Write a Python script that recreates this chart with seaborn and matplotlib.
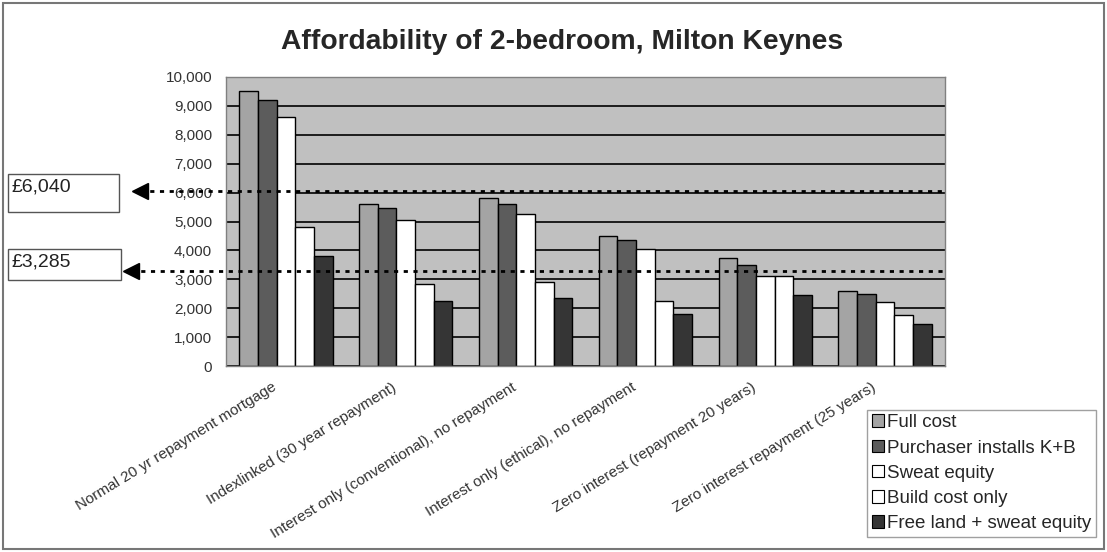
import pandas as pd
import numpy as np
import matplotlib.pyplot as plt
import seaborn as sns
from matplotlib.patches import Rectangle

# Data
schemes = ['Normal 20 yr repayment mortgage', 'Indexlinked (30 year repayment)',
           'Interest only (conventional), no repayment', 'Interest only (ethical), no repayment',
           'Zero interest (repayment 20 years)', 'Zero interest repayment (25 years)']
options = ['Full cost', 'Purchaser installs K+B', 'Sweat equity', 'Build cost only',
           'Free land + sweat equity']
full_cost = [9500, 5600, 5800, 4500, 3750, 2600]
purchaser_kb = [9200, 5450, 5600, 4350, 3500, 2500]
sweat_equity = [8600, 5050, 5250, 4050, 3100, 2200]
build_cost = [4800, 2850, 2900, 2250, 3100, 1750]
free_land = [3800, 2250, 2350, 1800, 2450, 1450]
thresholds = [6040, 3285]
threshold_labels = ['£6,040', '£3,285']

colours = ['#a4a4a4', '#5c5c5c', '#ffffff', '#ffffff', '#353535']

data = pd.DataFrame({
    'scheme': np.repeat(schemes, 5),
    'option': options * len(schemes),
    'cost': [v for row in zip(full_cost, purchaser_kb, sweat_equity, build_cost, free_land) for v in row],
})

sns.set_style('white')
plt.rcParams['font.family'] = ['Liberation Sans', 'DejaVu Sans']

fig = plt.figure(figsize=(11.07, 5.52), dpi=100)
ax = fig.add_axes([226 / 1107, 1 - 366 / 552, 719 / 1107, 289 / 552])
ax.set_facecolor('#c0c0c0')
ax.set_axisbelow(True)
ax.yaxis.grid(True, color='black', linewidth=1.2)

sns.barplot(data=data, x='scheme', y='cost', hue='option', palette=colours,
            width=0.78, edgecolor='black', linewidth=1, ax=ax, legend=False)

ax.set_xlim(-0.5, len(schemes) - 0.5)
ax.set_ylim(0, 10000)
ax.set_yticks(range(0, 10001, 1000))
ax.set_yticklabels([f'{v:,}' for v in range(0, 10001, 1000)], fontsize=11, color='#333333')
ax.set_xticks(range(len(schemes)))
ax.set_xticklabels([])
# category labels, slanted, ending just left of each group centre
for i, name in enumerate(schemes):
    ax.annotate(name, xy=(i, 0), xycoords=('data', 'axes fraction'), xytext=(-6, -17),
                textcoords='offset points', rotation=31.5, ha='right', va='baseline',
                rotation_mode='anchor', fontsize=11, color='#333333', annotation_clip=False)
ax.set_xlabel('')
ax.set_ylabel('')
ax.tick_params(axis='y', length=0, pad=10)
ax.tick_params(axis='x', length=0)
for side in ['top', 'right', 'left', 'bottom']:
    ax.spines[side].set_color('#808080')
    ax.spines[side].set_linewidth(1)

# threshold lines with arrows and boxes
trans = ax.get_yaxis_transform()
arrow_x = [-(226 - 140) / 719, -(226 - 131) / 719]
boxes = [(8, 174, 111, 38), (8, 249, 113, 31)]
for val, lab, xa, box in zip(thresholds, threshold_labels, arrow_x, boxes):
    ax.plot([xa, 1.0], [val, val], transform=trans, color='black', linestyle=(0, (1.5, 2)),
            linewidth=2, clip_on=False, zorder=5)
    ax.plot([xa], [val], transform=trans, marker='<', markersize=12, color='black',
            clip_on=False, zorder=6)
    x0, y0, w, h = box
    fig.patches.append(Rectangle((x0 / 1107, 1 - (y0 + h) / 552), w / 1107, h / 552,
                                 transform=fig.transFigure, fill=False,
                                 edgecolor='#555555', linewidth=1))
    fig.text((x0 + 4) / 1107, 1 - (y0 + 13) / 552, lab, fontsize=14, color='#222222', va='center')

fig.text(0.508, 1 - 42 / 552, 'Affordability of 2-bedroom, Milton Keynes', ha='center', va='center',
         fontsize=20.3, fontweight='bold')

handles = [Rectangle((0, 0), 1, 1, facecolor=c, edgecolor='black', linewidth=0.8) for c in colours]
fig.legend(handles, options, loc='lower right', bbox_to_anchor=(1096 / 1107, 1 - 537 / 552),
           fontsize=13.5, frameon=True, fancybox=False, edgecolor='#888888', handlelength=0.65,
           handleheight=0.65, handletextpad=0.15, labelspacing=0.44, borderpad=0.25,
           borderaxespad=0)

fig.patches.append(Rectangle((3 / 1107, 3 / 552), 1101 / 1107, 546 / 552, transform=fig.transFigure,
                             fill=False, edgecolor='#777777', linewidth=1.5))

fig.savefig('out.png', dpi=100)
